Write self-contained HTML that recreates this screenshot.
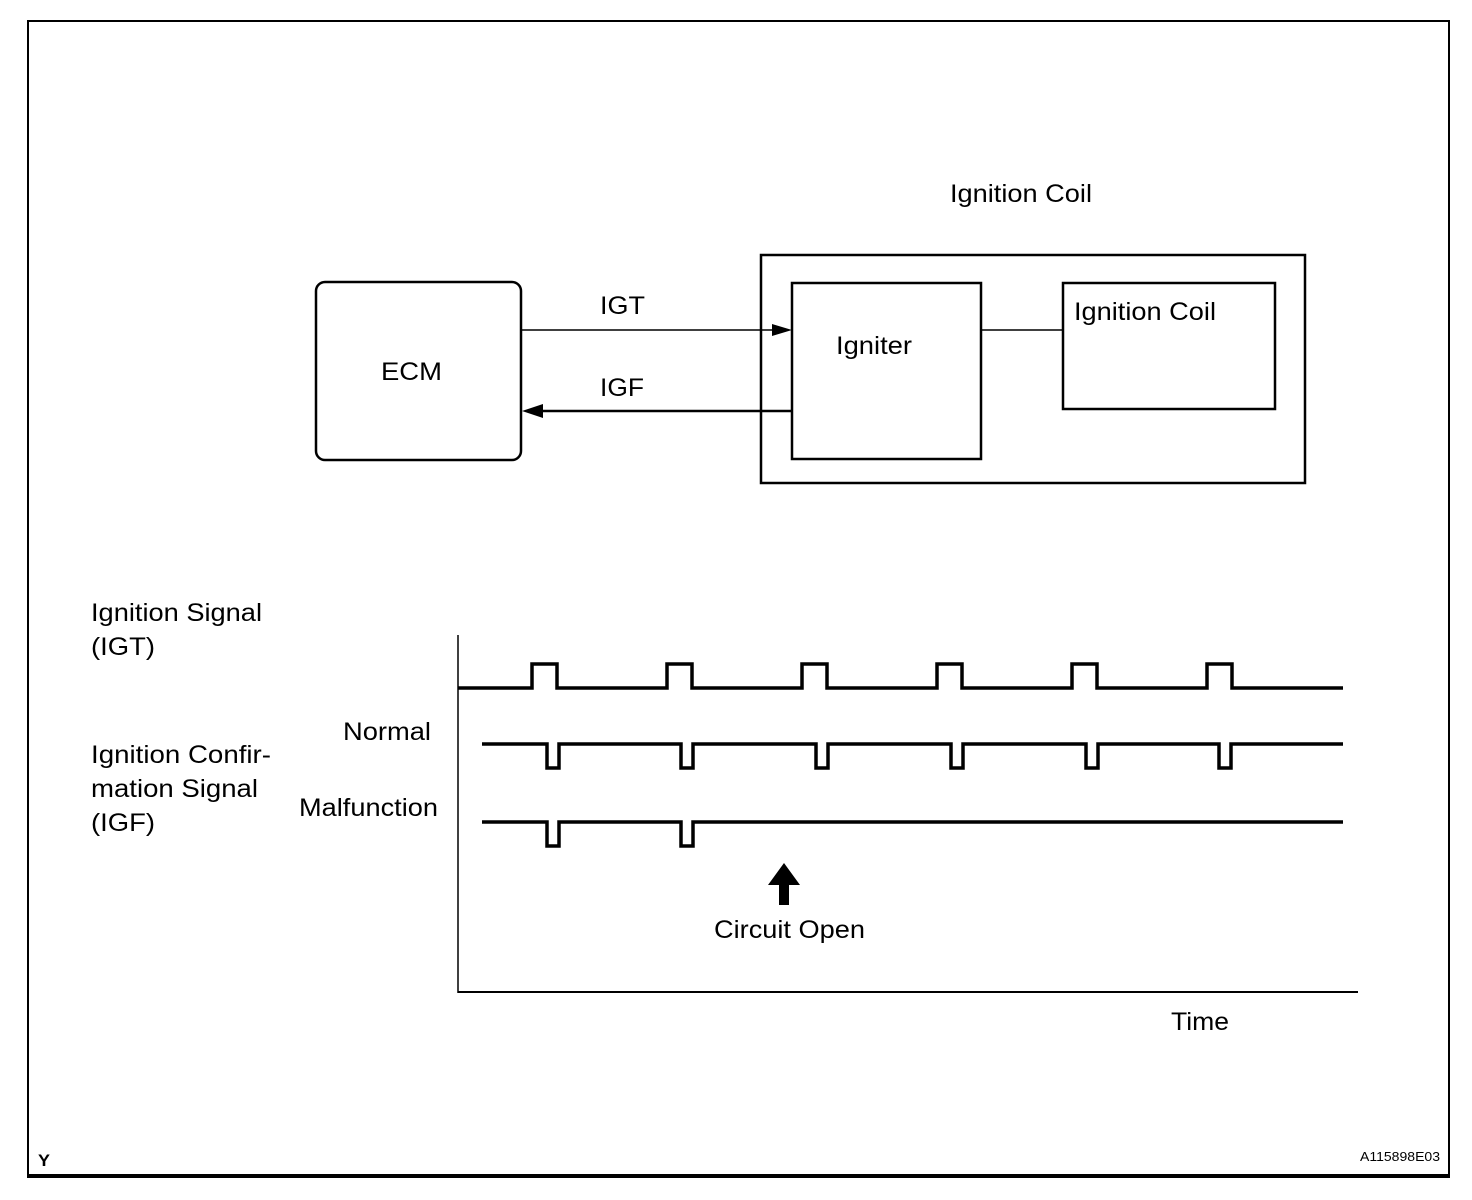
<!DOCTYPE html>
<html><head><meta charset="utf-8"><style>
html,body{margin:0;padding:0;background:#fff;}
svg{display:block;}
text{font-family:"Liberation Sans",Arial,sans-serif;fill:#000;}
</style></head><body>
<svg width="1472" height="1200" viewBox="0 0 1472 1200" xmlns="http://www.w3.org/2000/svg">
<rect x="28" y="21" width="1421" height="1156" fill="none" stroke="#000" stroke-width="2"/>
<line x1="28" y1="1176" x2="1449" y2="1176" stroke="#000" stroke-width="4"/>
<g font-size="25" lengthAdjust="spacingAndGlyphs">
<text x="950" y="202" textLength="142" lengthAdjust="spacingAndGlyphs">Ignition Coil</text>
<text x="381" y="380" textLength="61" lengthAdjust="spacingAndGlyphs">ECM</text>
<text x="600" y="314" textLength="45" lengthAdjust="spacingAndGlyphs">IGT</text>
<text x="600" y="396" textLength="44" lengthAdjust="spacingAndGlyphs">IGF</text>
<text x="836" y="354" textLength="76" lengthAdjust="spacingAndGlyphs">Igniter</text>
<text x="1074" y="320" textLength="142" lengthAdjust="spacingAndGlyphs">Ignition Coil</text>
<text x="91" y="621" textLength="171" lengthAdjust="spacingAndGlyphs">Ignition Signal</text>
<text x="91" y="655" textLength="64" lengthAdjust="spacingAndGlyphs">(IGT)</text>
<text x="343" y="740" textLength="88" lengthAdjust="spacingAndGlyphs">Normal</text>
<text x="91" y="763" textLength="180" lengthAdjust="spacingAndGlyphs">Ignition Confir-</text>
<text x="91" y="797" textLength="167" lengthAdjust="spacingAndGlyphs">mation Signal</text>
<text x="91" y="831" textLength="64" lengthAdjust="spacingAndGlyphs">(IGF)</text>
<text x="299" y="816" textLength="139" lengthAdjust="spacingAndGlyphs">Malfunction</text>
<text x="714" y="938" textLength="151" lengthAdjust="spacingAndGlyphs">Circuit Open</text>
<text x="1171" y="1030" textLength="58" lengthAdjust="spacingAndGlyphs">Time</text>
</g>
<rect x="316" y="282" width="205" height="178" rx="9" fill="none" stroke="#000" stroke-width="2.5"/>
<line x1="521" y1="330" x2="775" y2="330" stroke="#000" stroke-width="1.5"/>
<polygon points="772,324 792,330 772,336" fill="#000"/>
<line x1="540" y1="411" x2="792" y2="411" stroke="#000" stroke-width="2.5"/>
<polygon points="522,411 543,404 543,418" fill="#000"/>
<rect x="761" y="255" width="544" height="228" fill="none" stroke="#000" stroke-width="2.5"/>
<rect x="792" y="283" width="189" height="176" fill="none" stroke="#000" stroke-width="2.5"/>
<line x1="981" y1="330" x2="1063" y2="330" stroke="#000" stroke-width="1.5"/>
<rect x="1063" y="283" width="212" height="126" fill="none" stroke="#000" stroke-width="2.5"/>
<line x1="458" y1="635" x2="458" y2="993" stroke="#000" stroke-width="1.5"/>
<line x1="458" y1="992" x2="1358" y2="992" stroke="#000" stroke-width="2"/>
<g fill="none" stroke="#000" stroke-width="3.5">
<path d="M458 688 H532 V664 H557 V688 H667 V664 H692 V688 H802 V664 H827 V688 H937 V664 H962 V688 H1072 V664 H1097 V688 H1207 V664 H1232 V688 H1343"/>
<path d="M482 744 H547 V768 H559 V744 H681 V768 H693 V744 H816 V768 H828 V744 H951 V768 H963 V744 H1086 V768 H1098 V744 H1219 V768 H1231 V744 H1343"/>
<path d="M482 822 H547 V846 H559 V822 H681 V846 H693 V822 H1343"/>
</g>
<polygon points="784,863 800,885 789,885 789,905 779,905 779,885 768,885" fill="#000"/>
<text x="38" y="1166" font-size="17" font-weight="bold" textLength="12" lengthAdjust="spacingAndGlyphs">Y</text>
<text x="1360" y="1161" font-size="13" textLength="80" lengthAdjust="spacingAndGlyphs">A115898E03</text>
</svg>
</body></html>
